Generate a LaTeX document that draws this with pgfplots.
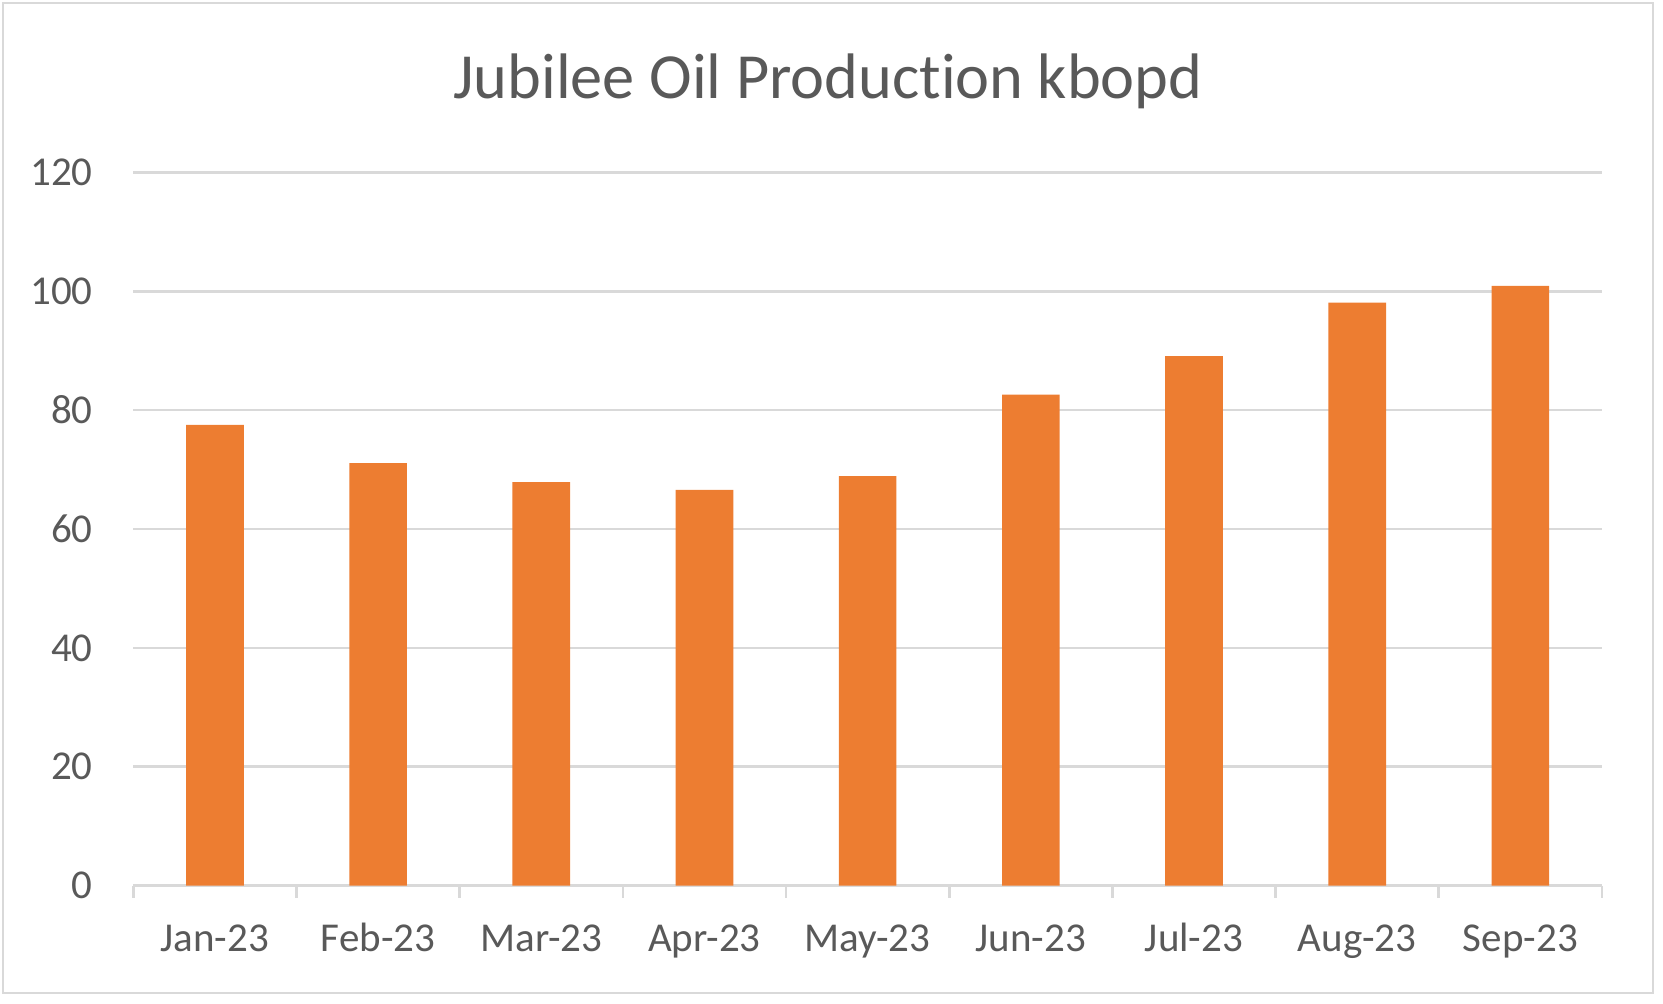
\documentclass[border=0pt]{standalone}
\usepackage{pgfplots}
\pgfplotsset{compat=1.18}
\usepackage{fontspec}
\setmainfont{Carlito}[Ligatures=NoCommon]
\definecolor{txtgray}{RGB}{89,89,89}
\definecolor{gridgray}{RGB}{217,217,217}
\definecolor{barorange}{RGB}{237,125,49}
\begin{document}
\begin{tikzpicture}
\useasboundingbox (-40pt,-35.2pt) rectangle (458.9pt,265.7pt);
\draw[gridgray, line width=0.8pt] (-39.1pt,-32.2pt) rectangle (455.9pt,264.8pt);
\node[anchor=base, text=txtgray, font=\fontsize{19.3pt}{23pt}\selectfont, inner sep=0pt] at (208.4pt,236.2pt) {Jubilee Oil Production kbopd};
\begin{axis}[
  at={(0pt,0pt)}, anchor=south west,
  scale only axis,
  width=440.6pt, height=214pt,
  ybar, bar width=17.3pt,
  xmin=-0.5, xmax=8.5,
  ymin=0, ymax=120,
  ytick={0,20,...,120},
  xtick={0,...,8},
  xticklabels={Jan-23,Feb-23,Mar-23,Apr-23,May-23,Jun-23,Jul-23,Aug-23,Sep-23},
  minor xtick={-0.5,0.5,...,8.5},
  major x tick style={draw=none},
  minor x tick style={draw=gridgray, line width=0.8pt},
  minor tick length=3.6pt,
  xtick align=outside,
  ymajorgrids,
  major grid style={draw=gridgray, line width=0.8pt},
  axis lines*=left,
  y axis line style={draw=none},
  x axis line style={draw=gridgray, line width=0.8pt},
  ytick style={draw=none},
  tick label style={text=txtgray, font=\fontsize{12.3pt}{14.5pt}\selectfont},
  yticklabel style={anchor=east, inner sep=0pt, xshift=-12pt},
  xticklabel style={anchor=base, inner sep=0pt, yshift=-15.5pt},
  /pgf/number format/assume math mode=true,
  clip=false,
]
\addplot[fill=barorange, draw=none] coordinates {
  (0,77.5) (1,71.1) (2,67.9) (3,66.6) (4,68.9) (5,82.6) (6,89.1) (7,98.1) (8,100.9)
};
\end{axis}
\end{tikzpicture}
\end{document}
